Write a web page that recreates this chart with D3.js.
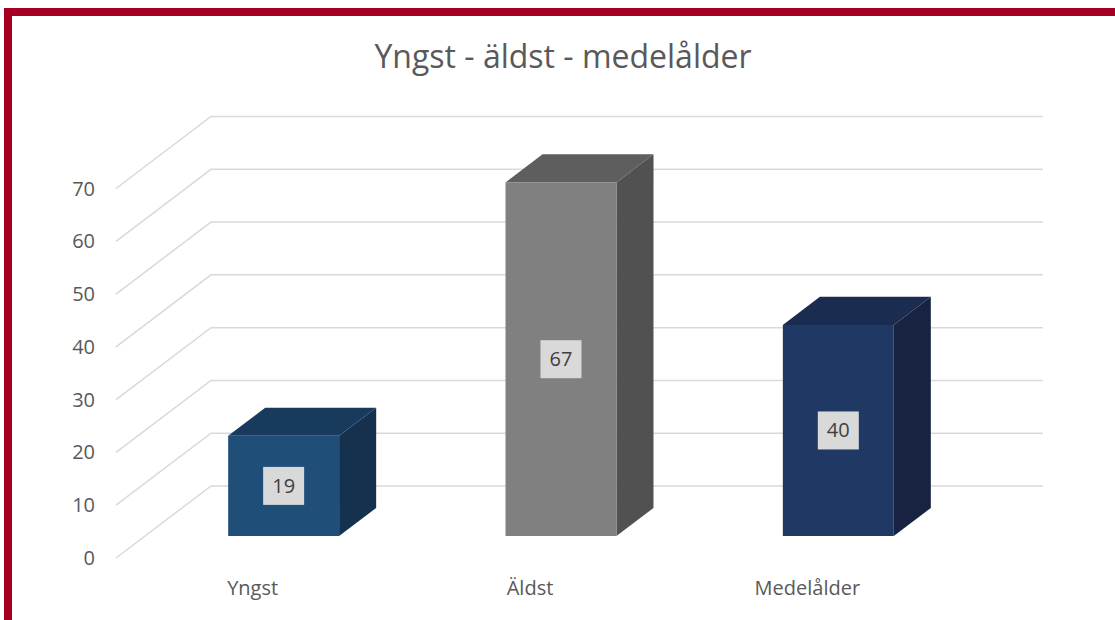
<!DOCTYPE html>
<html>
<head>
<meta charset="utf-8">
<script src="https://cdn.jsdelivr.net/npm/d3@7"></script>
<style>
  body { margin: 0; background: #fff; }
  svg { display: block; }
  text { font-family: "Open Sans", sans-serif; fill: #595959; }
</style>
</head>
<body>
<svg width="1115" height="620"></svg>
<script>
// data
const categories = ['Yngst', 'Äldst', 'Medelålder'];
const values = [19, 67, 40];
const yTicks = [0, 10, 20, 30, 40, 50, 60, 70];
const title = 'Yngst - äldst - medelålder';

const fronts = ['#1f4e79', '#808080', '#203864'];
const tops = ['#183a5d', '#5e5e5e', '#1a2c4f'];
const sides = ['#15314e', '#515151', '#172341'];

const svg = d3.select('svg');

// border
svg.append('path')
  .attr('d', 'M8,620 L8,12 L1115,12')
  .attr('fill', 'none')
  .attr('stroke', '#a50021')
  .attr('stroke-width', 8);

svg.append('text')
  .attr('x', 563)
  .attr('y', 68)
  .attr('text-anchor', 'middle')
  .style('font-size', '32px')
  .text(title);

// back wall scales, depth gives the oblique shift
let x = d3.scaleBand().domain(categories).range([211, 1043]);
let y = d3.scaleLinear().domain([0, 70]).range([486, 116.5]);
const DX = -95, DY = 72;
const proj = (px, v, d) => [px + DX * d, y(v) + DY * d];

let grid = svg.append('g');
yTicks.forEach((t) => {
  let a = proj(1043, t, 0), b = proj(211, t, 0), c = proj(211, t, 1);
  grid.append('path')
    .attr('d', d3.line()([a, b, c]))
    .attr('fill', 'none')
    .attr('stroke', '#d9d9d9')
    .attr('stroke-width', 1.5);
  svg.append('text')
    .attr('x', 95)
    .attr('y', c[1] + 7)
    .attr('text-anchor', 'end')
    .style('font-size', '20px')
    .text(t);
});

const d0 = 0.305, d1 = 0.695; // bar depth, back and front
const bw = x.bandwidth() * 0.4;

categories.forEach((cat, i) => {
  let cx = x(cat) + x.bandwidth() / 2;
  let l = cx - bw / 2, r = cx + bw / 2;
  let v = values[i];
  let g = svg.append('g');
  let poly = (pts, fill) => g.append('path')
    .attr('d', d3.line()(pts) + 'Z')
    .attr('fill', fill);
  // side
  poly([proj(r, 0, d1), proj(r, v, d1), proj(r, v, d0), proj(r, 0, d0)], sides[i]);
  // top
  poly([proj(l, v, d1), proj(l, v, d0), proj(r, v, d0), proj(r, v, d1)], tops[i]);
  // front
  poly([proj(l, 0, d1), proj(l, v, d1), proj(r, v, d1), proj(r, 0, d1)], fronts[i]);

  let mid = proj(cx, v / 2, d1);
  g.append('rect')
    .attr('x', mid[0] - 20.5)
    .attr('y', mid[1] - 19)
    .attr('width', 41)
    .attr('height', 38)
    .attr('fill', '#d9d9d9');
  g.append('text')
    .attr('x', mid[0])
    .attr('y', mid[1] + 7)
    .attr('text-anchor', 'middle')
    .style('font-size', '20px')
    .style('fill', '#404040')
    .text(v);

  let lab = proj(cx, 0, 1);
  svg.append('text')
    .attr('x', lab[0] - 2)
    .attr('y', 595)
    .attr('text-anchor', 'middle')
    .style('font-size', '20px')
    .text(cat);
});
</script>
</body>
</html>
